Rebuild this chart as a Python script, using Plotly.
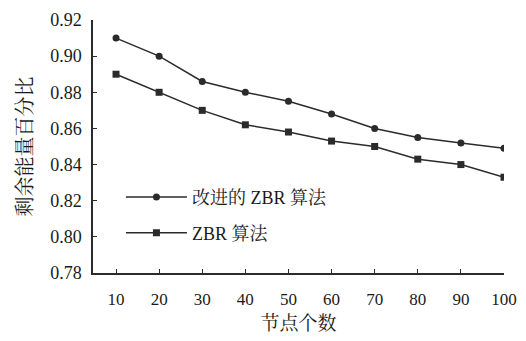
import plotly.graph_objects as go

nodes = [10, 20, 30, 40, 50, 60, 70, 80, 90, 100]
improved_zbr = [0.910, 0.900, 0.886, 0.880, 0.875, 0.868, 0.860, 0.855, 0.852, 0.849]
zbr = [0.890, 0.880, 0.870, 0.862, 0.858, 0.853, 0.850, 0.843, 0.840, 0.833]
y_ticks = [0.78, 0.80, 0.82, 0.84, 0.86, 0.88, 0.90, 0.92]

font_fam = "Times New Roman, Liberation Serif, DejaVu Serif, serif"
cjk_fam = "Times New Roman, Liberation Serif, Noto Serif CJK SC, Noto Sans CJK SC, serif"
col = "#2b2b2b"

fig = go.Figure()
fig.add_trace(go.Scatter(x=nodes, y=improved_zbr, mode="lines+markers", name="改进的 ZBR 算法",
                         line=dict(color=col, width=1.5),
                         marker=dict(symbol="circle", size=7, color=col), legend="legend"))
fig.add_trace(go.Scatter(x=nodes, y=zbr, mode="lines+markers", name="ZBR 算法",
                         line=dict(color=col, width=1.5),
                         marker=dict(symbol="square", size=7, color=col), legend="legend2"))

leg_common = dict(xanchor="left", yanchor="top", bgcolor="rgba(0,0,0,0)",
                  font=dict(size=18, family=cjk_fam), itemwidth=61)

fig.update_layout(
    width=526, height=341,
    margin=dict(l=93, r=22, t=20, b=68),
    paper_bgcolor="white", plot_bgcolor="white",
    font=dict(family=cjk_fam, size=17, color="#1a1a1a"),
    legend=dict(x=0.068, y=0.372, **leg_common),
    legend2=dict(x=0.068, y=0.231, **leg_common),
    xaxis=dict(range=[4.66, 100], tickvals=nodes, showline=True, linecolor=col, linewidth=1.5,
               ticks="inside", ticklen=4, tickcolor=col, showgrid=False, zeroline=False,
               automargin=False, ticklabelstandoff=10,
               tickfont=dict(family=font_fam, size=17),
               title=dict(text="节点个数", font=dict(size=19), standoff=9)),
    yaxis=dict(range=[0.78, 0.92], tickvals=y_ticks, tickformat=".2f", showline=True,
               linecolor=col, linewidth=1.5, ticks="inside", ticklen=4, tickcolor=col,
               showgrid=False, zeroline=False, automargin=False, ticklabelstandoff=6,
               tickfont=dict(family=font_fam, size=18),
               title=dict(text="剩余能量百分比", font=dict(size=20), standoff=12)),
    showlegend=True,
)

fig.write_html("out.html", config={"displayModeBar": False},
               post_script="document.body.style.margin='0';")
